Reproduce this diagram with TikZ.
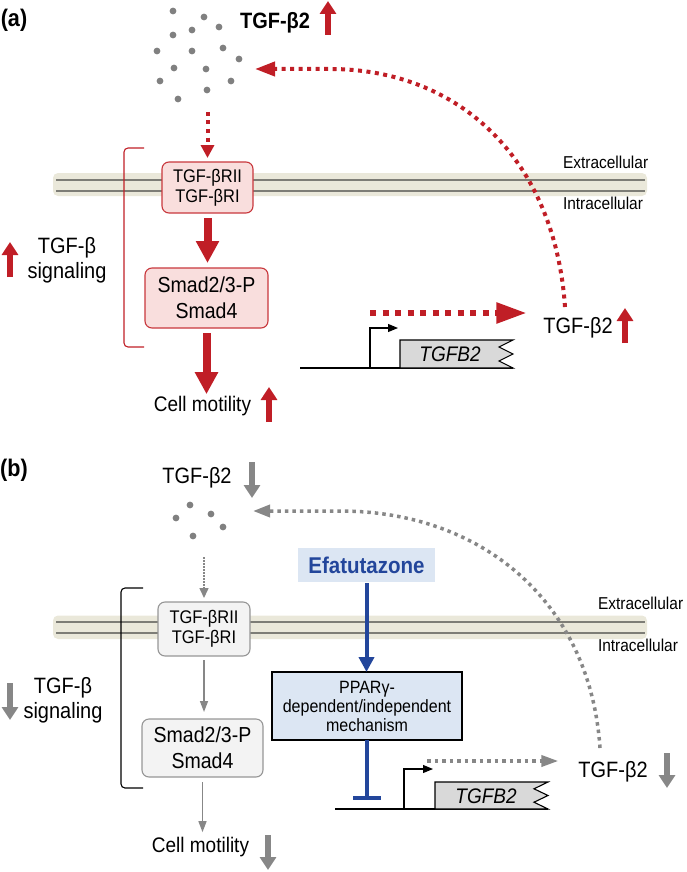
\documentclass[tikz,border=0pt]{standalone}
\usepackage{fontspec}
\setmainfont[FakeStretch=0.9]{Liberation Sans}
\usetikzlibrary{arrows.meta,calc}
\definecolor{myred}{RGB}{192,30,38}
\definecolor{boxred}{RGB}{200,55,60}
\definecolor{pinkfill}{RGB}{249,222,221}
\definecolor{dotgray}{RGB}{128,128,128}
\definecolor{arrgray}{RGB}{135,135,135}
\definecolor{boxgray}{RGB}{150,150,150}
\definecolor{lightgraytwo}{RGB}{243,243,243}
\definecolor{membeige}{RGB}{234,232,218}
\definecolor{memline}{RGB}{125,125,118}
\definecolor{myblue}{RGB}{35,70,155}
\definecolor{bluefill}{RGB}{220,230,243}
\definecolor{genefill}{RGB}{217,217,217}
\newcommand{\myfs}[2]{\fontsize{#1}{#2}\selectfont}
\begin{document}
\begin{tikzpicture}[x=1pt,y=-1pt,
  every node/.style={inner sep=0pt,outer sep=0pt,align=center},
  redbox/.style={draw=boxred,fill=pinkfill,rounded corners=7pt,line width=1.1pt},
  graybox/.style={draw=boxgray,fill=lightgraytwo,rounded corners=7pt,line width=1.1pt},
  reddotted/.style={draw=myred,line width=4pt,dash pattern=on 4pt off 4.5pt},
  graydotted/.style={draw=arrgray,line width=3.5pt,dash pattern=on 3.5pt off 4pt},
  bigred/.style={draw=myred,line width=8pt,-{Triangle[length=22pt,width=22pt]}},
  upred/.style={draw=myred,line width=6pt,-{Triangle[length=13pt,width=16pt]}},
  downgray/.style={draw=arrgray,line width=6pt,-{Triangle[length=13pt,width=16pt]}},
  thingray/.style={draw=arrgray,line width=1.5pt,-{Triangle[length=11pt,width=8pt]}},
  genebox/.style={draw=black,line width=1.1pt,fill=genefill},
  geneline/.style={draw=black,line width=1.1pt},
  promoter/.style={draw=black,line width=1.1pt,-{Triangle[length=10pt,width=8pt]}},
  bracketa/.style={draw=myred,line width=1.1pt,rounded corners=4pt},
  bracketb/.style={draw=black,line width=1.1pt,rounded corners=4pt},
  memlinestyle/.style={draw=memline,line width=2pt},
  lbl/.style={font=\myfs{22.2}{25}},
  small/.style={font=\myfs{17.2}{17.2}}
]
\useasboundingbox (0,0) rectangle (686,872);

% ================= (a) =================
\node[font=\bfseries\myfs{24}{24}] (labA) at (14,20) {(a)};
\node[font=\bfseries\myfs{22.2}{22.2}] (tgfTopA) at (275,23) {TGF-β2};
\draw[upred] (328,35) -- (328,1);

\foreach \p in {(173,11),(204,17),(219,27),(192,30),(173,35),(157,51),(192,51),(223,48),(239,59),(174,68),(206,69),(231,81),(160,81),(207,90),(178,99)}
  \fill[dotgray] \p circle (3.4);
\node[minimum width=86pt,minimum height=96pt] (dotsA) at (198,55) {};

% membrane a
\fill[membeige,rounded corners=5pt] (53,173) rectangle (647,196);
\draw[memlinestyle] (56,179.5) -- (645,179.5);
\draw[memlinestyle] (56,190.5) -- (645,190.5);
\node[small,anchor=west] (extA) at (563,162) {Extracellular};
\node[small,anchor=west] (intA) at (563,203) {Intracellular};

% bracket a
\draw[bracketa] (144,148) -- (124,148) -- (124,347) -- (144,347);

\node[redbox,minimum width=91pt,minimum height=51pt,font=\myfs{18.3}{20}] (recA) at (207.5,187.5) {TGF-βRII\\TGF-βRI};
\node[redbox,minimum width=123pt,minimum height=60pt,font=\myfs{21.7}{26}] (smadA) at (206.5,298) {Smad2/3-P\\Smad4};
\node[font=\myfs{21.1}{21}] (motA) at (202.5,406) {Cell motility};
\draw[upred] (269,422) -- (269,387);
\node[lbl] (sigA) at (67,260) {TGF-β\\signaling};
\draw[upred] (10,277) -- (10,242);

\draw[reddotted,-{Triangle[length=13pt,width=13pt]},shorten <=9pt,shorten >=4pt] (recA.north |- dotsA.south) -- (recA.north);
\draw[bigred,shorten <=5pt,shorten >=5pt] (recA.south) -- (recA.south |- smadA.north);
\draw[bigred,shorten <=5pt,shorten >=2pt] (smadA.south) -- (smadA.south |- motA.north);

% gene a
\draw[geneline] (300,368) -- (513,368);
\draw[genebox] (400,368) -- (400,340) -- (513,340) -- (499,347) -- (513,354) -- (499,361) -- (513,368) -- cycle;
\node[font=\itshape\myfs{21.1}{21}] (geneA) at (450,354.5) {TGFB2};
\coordinate (tssA) at (370,368);
\coordinate (tssEndA) at (398,328);
\draw[promoter] (tssA) |- (tssEndA);
\node[lbl] (tgfRA) at (578,328) {TGF-β2};
\draw[upred] (625,343) -- (625,308);
\coordinate (transA) at (370,313);
\draw[draw=myred,line width=5.5pt,dash pattern=on 6pt off 6.5pt,-{Triangle[length=30pt,width=20pt]}] (transA) -- (transA -| tgfRA.west) [shorten >=17pt];
\coordinate (curveStartA) at (565,307);
\coordinate (curveEndA) at (255,69);
\draw[reddotted,-{Triangle[length=20pt,width=14pt]}] (curveStartA) .. controls (555,160) and (460,69) .. (330,69) -- (curveEndA);

% ================= (b) =================
\node[font=\bfseries\myfs{24}{24}] (labB) at (14,470) {(b)};
\node[lbl] (tgfTopB) at (197,478) {TGF-β2};
\draw[downgray] (252,462) -- (252,498);
\foreach \p in {(190,505),(176,518),(211,514),(223,527),(193,536)}
  \fill[dotgray] \p circle (3.4);
\node[minimum width=55pt,minimum height=40pt] (dotsB) at (199,520) {};

% membrane b
\fill[membeige,rounded corners=5pt] (53,615.5) rectangle (647,639);
\draw[memlinestyle] (56,622) -- (645,622);
\draw[memlinestyle] (56,633) -- (645,633);
\node[small,anchor=west] (extB) at (598,603) {Extracellular};
\node[small,anchor=west] (intB) at (598,645) {Intracellular};

\draw[bracketb] (143,588) -- (121,588) -- (121,788) -- (143,788);

\node[graybox,minimum width=92pt,minimum height=54pt,font=\myfs{18.3}{20}] (recB) at (204,629) {TGF-βRII\\TGF-βRI};
\node[graybox,minimum width=121pt,minimum height=58pt,font=\myfs{21.7}{26}] (smadB) at (202.5,748) {Smad2/3-P\\Smad4};
\node[font=\myfs{21.1}{21}] (motB) at (200.5,847) {Cell motility};
\draw[downgray] (268,835) -- (268,870);
\node[lbl] (sigB) at (63,700) {TGF-β\\signaling};
\draw[downgray] (10,683) -- (10,720);

\draw[draw=arrgray,line width=1.5pt,dash pattern=on 1.5pt off 1.5pt,-{Triangle[length=10pt,width=9pt]},shorten <=17pt,shorten >=4pt] (recB.north |- dotsB.south) -- (recB.north);
\draw[thingray,shorten <=4pt,shorten >=7pt] (recB.south) -- (recB.south |- smadB.north);
\draw[thingray,shorten <=5pt,shorten >=5pt] (smadB.south) -- (smadB.south |- motB.north);

\node[fill=bluefill,minimum width=137pt,minimum height=34pt,font=\bfseries\myfs{22.8}{22.8},text=myblue] (efa) at (366.5,565) {Efatutazone};
\node[draw=black,line width=1.1pt,fill=bluefill,minimum width=190pt,minimum height=68pt,font=\myfs{17.8}{19}] (ppar) at (367,706) {PPARγ-\\dependent/independent\\mechanism};
\draw[myblue,line width=4pt,-{Triangle[length=15pt,width=15pt]},shorten <=1pt] (efa.south) -- (efa.south |- ppar.north);
\coordinate (tbar) at (367,798);
\draw[myblue,line width=4pt] (ppar.south) -- (tbar);
\draw[myblue,line width=4.5pt] ($(tbar)+(-14,0)$) -- ($(tbar)+(14,0)$);

% gene b
\draw[geneline] (335,809) -- (548,809);
\draw[genebox] (435,809) -- (435,782) -- (548,782) -- (534,788.8) -- (548,795.5) -- (534,802.2) -- (548,809) -- cycle;
\node[font=\itshape\myfs{21.1}{21}] (geneB) at (486,796) {TGFB2};
\coordinate (tssB) at (404,809);
\coordinate (tssEndB) at (433,769);
\draw[promoter] (tssB) |- (tssEndB);
\node[lbl] (tgfRB) at (613,772) {TGF-β2};
\draw[downgray] (667,753) -- (667,788);
\coordinate (transB) at (427,761);
\draw[graydotted,-{Triangle[length=17pt,width=11pt]},shorten >=20pt] (transB) -- (transB -| tgfRB.west);
\coordinate (curveStartB) at (600,748);
\coordinate (curveEndB) at (253,511);
\draw[graydotted,-{Triangle[length=17pt,width=12pt]}] (curveStartB) .. controls (590,600) and (480,511) .. (340,511) -- (curveEndB);
\end{tikzpicture}
\end{document}
